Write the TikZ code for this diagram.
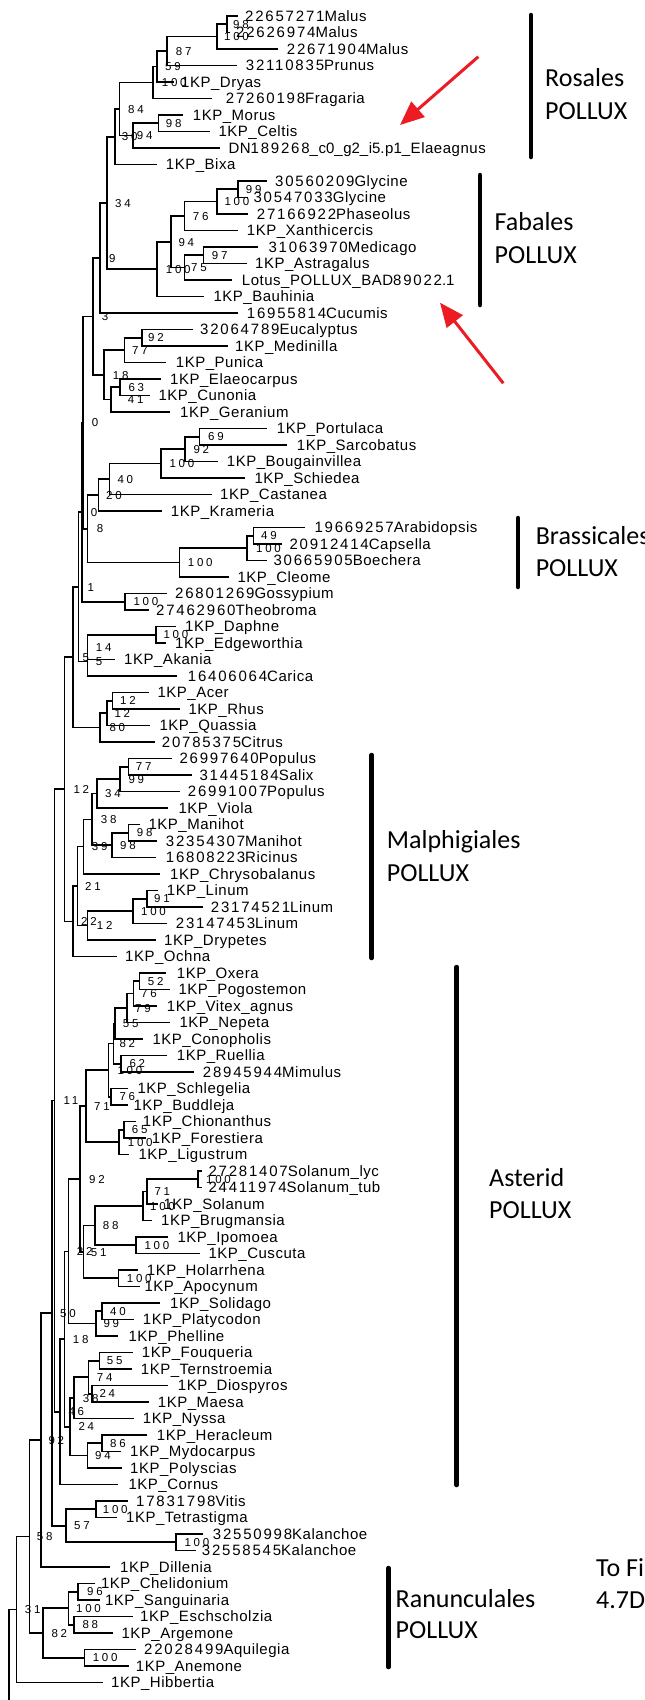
\documentclass[tikz,border=0pt]{standalone}
\usepackage{fontspec}
\usetikzlibrary{calc,arrows.meta}
\newfontfamily\leaffont[LetterSpace=3.5]{Liberation Sans}
\newfontfamily\leafdigits[LetterSpace=12]{Liberation Sans}
\newfontfamily\bsfont[LetterSpace=24]{Liberation Sans}
\newfontfamily\cladefont{Carlito}
\newcommand\dg[1]{{\leafdigits #1}}
\definecolor{arrowred}{RGB}{237,28,36}
\tikzset{
  br/.style={line width=1.6pt, line join=miter},
  leaflab/.style={font=\leaffont\fontsize{15}{18}\selectfont, inner sep=0pt, anchor=base west},
  bslab/.style={font=\bsfont\fontsize{11.5}{13}\selectfont, inner sep=0pt, anchor=base west},
  cladelab/.style={font=\cladefont\fontsize{26}{30}\selectfont, inner sep=0pt, anchor=base west},
  cladebar/.style={line width=4.5pt, line cap=round},
  pointer/.style={arrowred, line width=3pt, -{Triangle[length=24pt,width=20pt]}},
}
% leaf: name, row, tip x, label x, text
\newcommand\leaf[5]{%
  \coordinate (#1) at (#3,{16+16.5*(#2-1)});
  \node[leaflab] (#1t) at (#4,{16+16.5*(#2-1)+5.4}) {#5};}
% clade: name, x, upper child, lower child, label x, support value
\newcommand\clade[6]{%
  \coordinate (#1m) at ($(#3)!0.5!(#4)$);
  \coordinate (#1) at (#2,0 |- #1m);
  \draw[br] (#3) -| (#1) |- (#4);
  \node[bslab, yshift=-4.2pt] (#1b) at (#5,0 |- #1) {#6};}
\begin{document}
\begin{tikzpicture}[x=1pt,y=-1pt]
\path[use as bounding box] (0,0) rectangle (645,1700);
\fill[white] (0,0) rectangle (645,1700);
\clip (0,0) rectangle (645,1700);

% ---- leaves ----
\leaf{L1}{1}{237.7}{245}{\dg{22657271}Malus}
\leaf{L2}{2}{229.5}{236}{\dg{22626974}Malus}
\leaf{L3}{3}{277.7}{286.7}{\dg{22671904}Malus}
\leaf{L4}{4}{237.3}{245.7}{\dg{32110835}Prunus}
\leaf{L5}{5}{174}{181}{1KP\_Dryas}
\leaf{L6}{6}{212.3}{225.7}{\dg{27260198}Fragaria}
\leaf{L7}{7}{183.3}{192.7}{1KP\_Morus}
\leaf{L8}{8}{210}{218.3}{1KP\_Celtis}
\leaf{L9}{9}{220}{228.3}{DN\dg{189268}\_c\dg{0}\_g\dg{2}\_i\dg{5}.p\dg{1}\_Elaeagnus}
\leaf{L10}{10}{156.7}{165.7}{1KP\_Bixa}
\leaf{L11}{11}{266.7}{275}{\dg{30560209}Glycine}
\leaf{L12}{12}{248}{253.3}{\dg{30547033}Glycine}
\leaf{L13}{13}{248.3}{256.7}{\dg{27166922}Phaseolus}
\leaf{L14}{14}{238.3}{246.7}{1KP\_Xanthicercis}
\leaf{L15}{15}{258.3}{268.3}{\dg{31063970}Medicago}
\leaf{L16}{16}{246.7}{255}{1KP\_Astragalus}
\leaf{L17}{17}{232.3}{241.7}{Lotus\_POLLUX\_BAD\dg{89022}.\dg{1}}
\leaf{L18}{18}{204}{213.3}{1KP\_Bauhinia}
\leaf{L19}{19}{238.3}{246.7}{\dg{16955814}Cucumis}
\leaf{L20}{20}{192.7}{200}{\dg{32064789}Eucalyptus}
\leaf{L21}{21}{228.3}{235}{1KP\_Medinilla}
\leaf{L22}{22}{165.7}{175.7}{1KP\_Punica}
\leaf{L23}{23}{161}{170}{1KP\_Elaeocarpus}
\leaf{L24}{24}{150}{158.3}{1KP\_Cunonia}
\leaf{L25}{25}{170}{180}{1KP\_Geranium}
\leaf{L26}{26}{266.7}{276.7}{1KP\_Portulaca}
\leaf{L27}{27}{287.3}{296.7}{1KP\_Sarcobatus}
\leaf{L28}{28}{218.3}{226.7}{1KP\_Bougainvillea}
\leaf{L29}{29}{245}{254.3}{1KP\_Schiedea}
\leaf{L30}{30}{211.7}{220}{1KP\_Castanea}
\leaf{L31}{31}{161.7}{170.7}{1KP\_Krameria}
\leaf{L32}{32}{305}{314.3}{\dg{19669257}Arabidopsis}
\leaf{L33}{33}{281.7}{289.3}{\dg{20912414}Capsella}
\leaf{L34}{34}{266.7}{273.3}{\dg{30665905}Boechera}
\leaf{L35}{35}{229.3}{237.3}{1KP\_Cleome}
\leaf{L36}{36}{166.7}{175}{\dg{26801269}Gossypium}
\leaf{L37}{37}{149}{156}{\dg{27462960}Theobroma}
\leaf{L38}{38}{175.7}{185}{1KP\_Daphne}
\leaf{L39}{39}{165.7}{175}{1KP\_Edgeworthia}
\leaf{L40}{40}{115}{124}{1KP\_Akania}
\leaf{L41}{41}{176.7}{187.7}{\dg{16406064}Carica}
\leaf{L42}{42}{149}{157.3}{1KP\_Acer}
\leaf{L43}{43}{180}{188.3}{1KP\_Rhus}
\leaf{L44}{44}{150}{159.3}{1KP\_Quassia}
\leaf{L45}{45}{155}{161.7}{\dg{20785375}Citrus}
\leaf{L46}{46}{171.7}{179.3}{\dg{26997640}Populus}
\leaf{L47}{47}{191.7}{199.3}{\dg{31445184}Salix}
\leaf{L48}{48}{180}{187.7}{\dg{26991007}Populus}
\leaf{L49}{49}{168.3}{178.3}{1KP\_Viola}
\leaf{L50}{50}{140}{148.3}{1KP\_Manihot}
\leaf{L51}{51}{156.7}{165.7}{\dg{32354307}Manihot}
\leaf{L52}{52}{156}{165.7}{\dg{16808223}Ricinus}
\leaf{L53}{53}{160}{170}{1KP\_Chrysobalanus}
\leaf{L54}{54}{158}{166.7}{1KP\_Linum}
\leaf{L55}{55}{202.7}{210.7}{\dg{23174521}Linum}
\leaf{L56}{56}{166.7}{175.7}{\dg{23147453}Linum}
\leaf{L57}{57}{155.7}{164}{1KP\_Drypetes}
\leaf{L58}{58}{116.7}{125}{1KP\_Ochna}
\leaf{L59}{59}{165.7}{176.7}{1KP\_Oxera}
\leaf{L60}{60}{170}{178.3}{1KP\_Pogostemon}
\leaf{L61}{61}{156.7}{166.7}{1KP\_Vitex\_agnus}
\leaf{L62}{62}{170}{179.3}{1KP\_Nepeta}
\leaf{L63}{63}{143.3}{152.3}{1KP\_Conopholis}
\leaf{L64}{64}{166.7}{176.7}{1KP\_Ruellia}
\leaf{L65}{65}{194.3}{202.7}{\dg{28945944}Mimulus}
\leaf{L66}{66}{128.3}{137.3}{1KP\_Schlegelia}
\leaf{L67}{67}{128}{133.3}{1KP\_Buddleja}
\leaf{L68}{68}{136}{142.7}{1KP\_Chionanthus}
\leaf{L69}{69}{146}{151.7}{1KP\_Forestiera}
\leaf{L70}{70}{129}{138.3}{1KP\_Ligustrum}
\leaf{L71}{71}{201.7}{208.3}{\dg{27281407}Solanum\_lyc}
\leaf{L72}{72}{201.7}{208.3}{\dg{24411974}Solanum\_tub}
\leaf{L73}{73}{158}{163.3}{1KP\_Solanum}
\leaf{L74}{74}{151.7}{161}{1KP\_Brugmansia}
\leaf{L75}{75}{168.3}{177.3}{1KP\_Ipomoea}
\leaf{L76}{76}{200}{208.3}{1KP\_Cuscuta}
\leaf{L77}{77}{138.3}{146.7}{1KP\_Holarrhena}
\leaf{L78}{78}{140}{144.3}{1KP\_Apocynum}
\leaf{L79}{79}{160}{170}{1KP\_Solidago}
\leaf{L80}{80}{134}{142.7}{1KP\_Platycodon}
\leaf{L81}{81}{118.3}{128.3}{1KP\_Phelline}
\leaf{L82}{82}{132.7}{141.7}{1KP\_Fouqueria}
\leaf{L83}{83}{131.7}{140.7}{1KP\_Ternstroemia}
\leaf{L84}{84}{168.3}{177.7}{1KP\_Diospyros}
\leaf{L85}{85}{149}{157.7}{1KP\_Maesa}
\leaf{L86}{86}{134}{142.7}{1KP\_Nyssa}
\leaf{L87}{87}{147.3}{156.7}{1KP\_Heracleum}
\leaf{L88}{88}{120.7}{130}{1KP\_Mydocarpus}
\leaf{L89}{89}{121.7}{130}{1KP\_Polyscias}
\leaf{L90}{90}{118.3}{128.3}{1KP\_Cornus}
\leaf{L91}{91}{127.7}{136}{\dg{17831798}Vitis}
\leaf{L92}{92}{116.7}{126}{1KP\_Tetrastigma}
\leaf{L93}{93}{203.3}{212.7}{\dg{32550998}Kalanchoe}
\leaf{L94}{94}{196}{201.7}{\dg{32558545}Kalanchoe}
\leaf{L95}{95}{110}{120}{1KP\_Dillenia}
\leaf{L96}{96}{95}{100.8}{1KP\_Chelidonium}
\leaf{L97}{97}{100}{104.9}{1KP\_Sanguinaria}
\leaf{L98}{98}{133}{140}{1KP\_Eschscholzia}
\leaf{L99}{99}{113}{121.3}{1KP\_Argemone}
\leaf{L100}{100}{135.7}{144}{\dg{22028499}Aquilegia}
\leaf{L101}{101}{129}{135.7}{1KP\_Anemone}
\leaf{L102}{102}{103}{111}{1KP\_Hibbertia}

% ---- Rosales ----
\clade{nRa1}{226.7}{L1}{L2}{233}{98}
\clade{nRa2}{216.7}{nRa1}{L3}{224}{100}
\clade{nRa3}{166.7}{nRa2}{L4}{175.7}{87}
\clade{nRa4}{156.7}{nRa3}{L5}{165}{59}
\clade{nRa5}{152.7}{nRa4}{L6}{161.7}{100}
\clade{nRa6}{158.3}{L7}{L8}{165.7}{98}
\clade{nRa7}{132.7}{nRa6}{L9}{136.7}{94}
\clade{nRa8}{119.3}{nRa5}{nRa7}{128}{84}
\clade{nRa9}{115}{nRa8}{L10}{121.7}{30}
% ---- Fabales ----
\clade{nFa1}{237.7}{L11}{L12}{245.7}{99}
\clade{nFa2}{216.7}{nFa1}{L13}{224.3}{100}
\clade{nFa3}{184.3}{nFa2}{L14}{192.7}{76}
\clade{nFa4}{203.3}{L15}{L16}{211.7}{97}
\clade{nFa5}{184.3}{nFa4}{L17}{191}{75}
\clade{nFa6}{171}{nFa3}{nFa5}{178.3}{94}
\clade{nFa7}{156.7}{nFa6}{L18}{165.7}{100}
\clade{nSr1}{106.7}{nRa9}{nFa7}{115}{34}
\clade{nSr2}{100}{nSr1}{L19}{109}{9}
% ---- Myrtales, Oxalidales, Geraniales ----
\clade{nMy1}{141.7}{L20}{L21}{148}{92}
\clade{nMy2}{124.3}{nMy1}{L22}{132}{77}
\clade{nMy3}{120}{L23}{L24}{128.3}{63}
\clade{nMy4}{111}{nMy3}{L25}{127.7}{41}
\clade{nMy5}{104}{nMy2}{nMy4}{112.7}{18}
\clade{nSr3}{92.7}{nSr2}{nMy5}{101.7}{3}
% ---- Caryophyllales ----
\clade{nCa1}{199.3}{L26}{L27}{208}{69}
\clade{nCa2}{185}{nCa1}{L28}{193.3}{92}
\clade{nCa3}{161}{nCa2}{L29}{169.3}{100}
\clade{nCa4}{109.3}{nCa3}{L30}{117.3}{40}
\clade{nCa5}{98.3}{nCa4}{L31}{106}{20}
% ---- Brassicales ----
\clade{nBr1}{253.3}{L32}{L33}{261}{49}
\clade{nBr2}{246.7}{nBr1}{L34}{256}{100}
\clade{nBr3}{179.3}{nBr2}{L35}{187.7}{100}
\clade{nSr4}{87.3}{nCa5}{nBr3}{96.7}{8}
\clade{nSr5}{82.7}{nSr3}{nSr4}{91.7}{0}
% ---- Malvales and allies ----
\clade{nMv1}{125}{L36}{L37}{133.3}{100}
\clade{nSr6}{81.7}{nSr5}{nMv1}{90.7}{0}
\clade{nMv2}{155.7}{L38}{L39}{163.3}{100}
\clade{nMv3}{87.3}{nMv2}{L40}{95.7}{14}
\clade{nMv4}{87.3}{nMv3}{L41}{95.7}{5}
\clade{nSr7}{78.3}{nSr6}{nMv4}{87.3}{1}
% ---- Sapindales ----
\clade{nSa1}{112.3}{L42}{L43}{120}{12}
\clade{nSa2}{106.7}{nSa1}{L44}{114.3}{12}
\clade{nSa3}{100}{nSa2}{L45}{109.3}{80}
\clade{nSr8}{72.7}{nSr7}{nSa3}{82.3}{5}
% ---- Malpighiales ----
\clade{nMa1}{128.3}{L46}{L47}{135.7}{77}
\clade{nMa2}{120}{nMa1}{L48}{128.3}{99}
\clade{nMa3}{96.7}{nMa2}{L49}{105}{34}
\clade{nMa4}{128.3}{L50}{L51}{136.7}{98}
\clade{nMa5}{111.7}{nMa4}{L52}{120}{98}
\clade{nMa6}{91.7}{nMa3}{nMa5}{100.7}{38}
\clade{nMa7}{83.3}{nMa6}{L53}{91.7}{39}
\clade{nLi1}{146.7}{L54}{L55}{154}{91}
\clade{nLi2}{132.7}{nLi1}{L56}{141}{100}
\clade{nLi3}{87.3}{nLi2}{L57}{96.7}{12}
\clade{nMa8}{77.3}{nMa7}{nLi3}{85}{21}
\clade{nMa9}{72.7}{nMa8}{L58}{81}{22}
\clade{nRo1}{64.3}{nSr8}{nMa9}{73.3}{12}
% ---- Lamiales ----
\clade{nLa1}{139.3}{L59}{L60}{147.7}{52}
\clade{nLa2}{133.3}{nLa1}{L61}{141}{76}
\clade{nLa3}{126.7}{nLa2}{L62}{135}{79}
\clade{nLa4}{115}{nLa3}{L63}{122.7}{55}
\clade{nLa5}{120.7}{L64}{L65}{129.3}{62}
\clade{nLa6}{113.5}{nLa4}{nLa5}{119.3}{82}
\clade{nLa7}{111}{L66}{L67}{119.3}{76}
\clade{nLa8}{108.3}{nLa6}{nLa7}{117.3}{100}
\clade{nLa9}{124}{L68}{L69}{131.7}{65}
\clade{nLa10}{119}{nLa9}{L70}{127.7}{100}
\clade{nLa11}{85.7}{nLa8}{nLa10}{94}{71}
% ---- Solanales, Gentianales ----
\clade{nSo1}{197.7}{L71}{L72}{206}{100}
\clade{nSo2}{146.7}{nSo1}{L73}{154.3}{71}
\clade{nSo3}{142.7}{nSo2}{L74}{150}{100}
\clade{nSo4}{136}{L75}{L76}{144.3}{100}
\clade{nSo5}{95}{nSo3}{nSo4}{102.7}{88}
\clade{nGe1}{118.3}{L77}{L78}{126.7}{100}
\clade{nAs1}{83.3}{nSo5}{nGe1}{90.7}{51}
\clade{nAs2}{80}{nLa11}{nAs1}{89}{92}
\clade{nCp1}{101.7}{L79}{L80}{110}{40}
\clade{nCp2}{96}{nCp1}{L81}{103.3}{99}
\clade{nAs3}{68.3}{nAs2}{nCp2}{76.7}{22}
% ---- Ericales, Cornales, Apiales ----
\clade{nEr1}{99.3}{L82}{L83}{106.7}{55}
\clade{nEr2}{91.7}{L84}{L85}{99.3}{24}
\clade{nEr3}{88.3}{nEr1}{nEr2}{96.7}{74}
\clade{nEr4}{74}{nEr3}{L86}{82.7}{38}
\clade{nAp1}{101.7}{L87}{L88}{110}{86}
\clade{nAp2}{87.3}{nAp1}{L89}{95}{94}
\clade{nAs4}{70}{nEr4}{nAp2}{78.3}{24}
\clade{nAs5}{64.3}{nAs3}{nAs4}{72.7}{18}
\clade{nAs6}{60}{nAs5}{L90}{68.3}{46}
\clade{nCo1}{54.3}{nRo1}{nAs6}{63.3}{11}
% ---- Vitales, Saxifragales, Dilleniales ----
\clade{nVi1}{95.7}{L91}{L92}{102.7}{100}
\clade{nKa1}{175.7}{L93}{L94}{184.3}{100}
\clade{nVi2}{66}{nVi1}{nKa1}{74}{57}
\clade{nCo2}{51.7}{nCo1}{nVi2}{60}{50}
\clade{nCo3}{40.7}{nCo2}{L95}{48.3}{92}
% ---- Ranunculales ----
\clade{nRn1}{78.2}{L96}{L97}{87}{96}
\clade{nRn2}{74}{L98}{L99}{82.3}{88}
\clade{nRn3}{68.3}{nRn1}{nRn2}{76}{100}
\clade{nRn4}{84.3}{L100}{L101}{92.6}{100}
\clade{nRn5}{43.2}{nRn3}{nRn4}{51.4}{82}
\clade{nCo4}{29.3}{nCo3}{nRn5}{36.7}{58}
\clade{nCo5}{16.5}{nCo4}{L102}{24.7}{31}
% root stem running off the bottom edge
\coordinate (rootEnd) at (9,1700);
\draw[br] (nCo5) -| (rootEnd);

% ---- order bars and names ----
\coordinate (rosA) at (531,15);   \coordinate (rosB) at (531,157);
\coordinate (fabA) at (480,175);  \coordinate (fabB) at (480,305);
\coordinate (braA) at (518,518);  \coordinate (braB) at (518,587);
\coordinate (malA) at (371.7,755); \coordinate (malB) at (371.7,958);
\coordinate (astA) at (456.7,967); \coordinate (astB) at (456.7,1485);
\coordinate (ranA) at (388.5,1568); \coordinate (ranB) at (388.5,1667);
\draw[cladebar] (rosA) -- (rosB);
\draw[cladebar] (fabA) -- (fabB);
\draw[cladebar] (braA) -- (braB);
\draw[cladebar] (malA) -- (malB);
\draw[cladebar] (astA) -- (astB);
\draw[cladebar] (ranA) -- (ranB);

\node[cladelab] (rosN) at (545,86.4) {Rosales};
\node[cladelab] (rosP) at (545,119) {POLLUX};
\node[cladelab] (fabN) at (494.5,230.1) {Fabales};
\node[cladelab] (fabP) at (494.5,263.4) {POLLUX};
\node[cladelab] (braN) at (535.6,544) {Brassicales};
\node[cladelab] (braP) at (535.6,576.4) {POLLUX};
\node[cladelab] (malN) at (386.7,848.4) {Malphigiales};
\node[cladelab] (malP) at (386.7,881.4) {POLLUX};
\node[cladelab] (astN) at (489,1186.4) {Asterid};
\node[cladelab] (astP) at (489,1218.4) {POLLUX};
\node[cladelab] (ranN) at (395.5,1607.4) {Ranunculales};
\node[cladelab] (ranP) at (395.5,1638.4) {POLLUX};
\node[cladelab] (toN) at (596,1576.4) {To Fi};
\node[cladelab] (toP) at (596,1608.4) {4.7D};

% ---- red pointers ----
\coordinate (p1s) at (478.3,56.7);  \coordinate (p1e) at (400,125);
\coordinate (p2s) at (503.3,383.3); \coordinate (p2e) at (440,302.7);
\draw[pointer] (p1s) -- (p1e);
\draw[pointer] (p2s) -- (p2e);
\end{tikzpicture}
\end{document}
